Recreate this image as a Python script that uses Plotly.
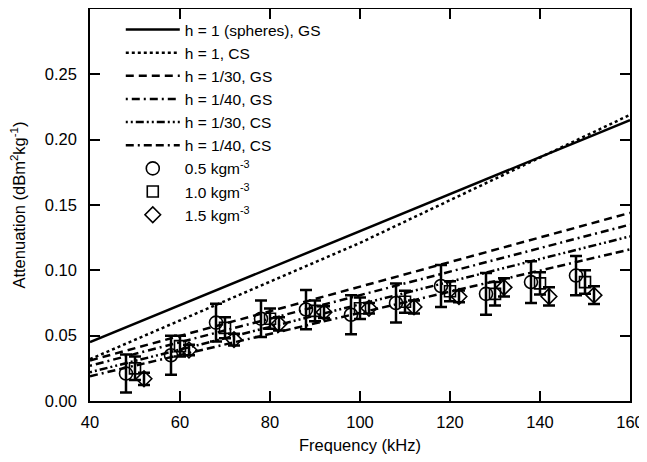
import plotly.graph_objects as go

# Model curves (frequency, attenuation)
model_freq = [40, 160]
h1_gs = [0.045, 0.215]
cs_freq = [40, 100, 160]
h1_cs = [0.032, 0.121, 0.219]
h30_gs = [0.031, 0.144]
h40_gs = [0.027, 0.135]
h30_cs = [0.022, 0.126]
h40_cs = [0.019, 0.116]

# Measurements
freq_05 = [48, 58, 68, 78, 88, 98, 108, 118, 128, 138, 148]
att_05 = [0.021, 0.035, 0.060, 0.063, 0.070, 0.066, 0.075, 0.088, 0.082, 0.091, 0.096]
err_05 = [0.0145, 0.015, 0.0145, 0.014, 0.015, 0.015, 0.015, 0.016, 0.016, 0.016, 0.015]

freq_10 = [50, 60, 70, 80, 90, 100, 110, 120, 130, 140, 150]
att_10 = [0.025, 0.042, 0.056, 0.063, 0.069, 0.071, 0.076, 0.084, 0.082, 0.090, 0.091]
err_10 = [0.009, 0.008, 0.008, 0.0077, 0.008, 0.0083, 0.0084, 0.0077, 0.009, 0.0085, 0.009]

freq_15 = [52, 62, 72, 82, 92, 102, 112, 122, 132, 142, 152]
att_15 = [0.017, 0.039, 0.047, 0.059, 0.068, 0.071, 0.072, 0.080, 0.087, 0.080, 0.081]
err_15 = [0.0047, 0.004, 0.0045, 0.005, 0.0045, 0.004, 0.005, 0.0045, 0.007, 0.007, 0.0068]

x_ticks = [40, 60, 80, 100, 120, 140, 160]
y_ticks = [0.00, 0.05, 0.10, 0.15, 0.20, 0.25]

FONT = "Liberation Sans, Arial, Helvetica, sans-serif"
FS = 16.5

fig = go.Figure()

lines = [
    ("h = 1 (spheres), GS", model_freq, h1_gs, "solid"),
    ("h = 1, CS", cs_freq, h1_cs, "dot"),
    ("h = 1/30, GS", model_freq, h30_gs, "8px,5px"),
    ("h = 1/40, GS", model_freq, h40_gs, "2px,4px,8px,4px"),
    ("h = 1/30, CS", model_freq, h30_cs, "2px,3px,2px,3px,8px,3px"),
    ("h = 1/40, CS", model_freq, h40_cs, "8px,4px,2px,4px,8px,4px"),
]
for name, fx, vals, dash in lines:
    fig.add_trace(go.Scatter(x=fx, y=vals, mode="lines", name=name,
                             line=dict(color="black", width=2.5, dash=dash)))

pts = [
    ("0.5 kgm<sup>-3</sup>", freq_05, att_05, err_05, "circle-open", 13),
    ("1.0 kgm<sup>-3</sup>", freq_10, att_10, err_10, "square-open", 11),
    ("1.5 kgm<sup>-3</sup>", freq_15, att_15, err_15, "diamond-open", 12),
]
for name, fx, fy, fe, sym, sz in pts:
    fig.add_trace(go.Scatter(
        x=fx, y=fy, mode="markers", name=name,
        marker=dict(symbol=sym, size=sz, color="black", line=dict(color="black", width=1.6)),
        error_y=dict(type="data", array=fe, visible=True, color="black", thickness=2.5, width=6),
    ))

axis_common = dict(
    showline=True, linecolor="black", linewidth=1.5, mirror="ticks",
    ticks="inside", ticklen=10, tickwidth=1.5, tickcolor="black",
    showgrid=False, zeroline=False, automargin=False, ticklabeloverflow="allow",
    tickfont=dict(family=FONT, size=FS, color="black"),
)

# the page body adds an 8px offset, so the figure is sized to fit the window
fig.update_layout(
    width=639, height=446,
    margin=dict(l=82, r=17, t=1, b=53),
    paper_bgcolor="white", plot_bgcolor="white",
    font=dict(family=FONT, size=FS, color="black"),
    xaxis=dict(range=[40, 160], tickvals=x_ticks, ticklabelstandoff=5,
               title=dict(text="Frequency (kHz)", font=dict(size=FS)),
               **axis_common),
    yaxis=dict(range=[0, 0.3], tickvals=y_ticks, tickformat=".2f", ticklabelstandoff=8,
               title=dict(text="Attenuation (dBm<sup>2</sup>kg<sup>-1</sup>)", font=dict(size=FS)),
               **axis_common),
    legend=dict(x=0.057, y=0.99, xanchor="left", yanchor="top",
                bgcolor="rgba(0,0,0,0)", borderwidth=0, itemwidth=54,
                font=dict(family=FONT, size=15.5, color="black"),
                tracegroupgap=0),
    showlegend=True,
)

fig.write_html("out.html")
